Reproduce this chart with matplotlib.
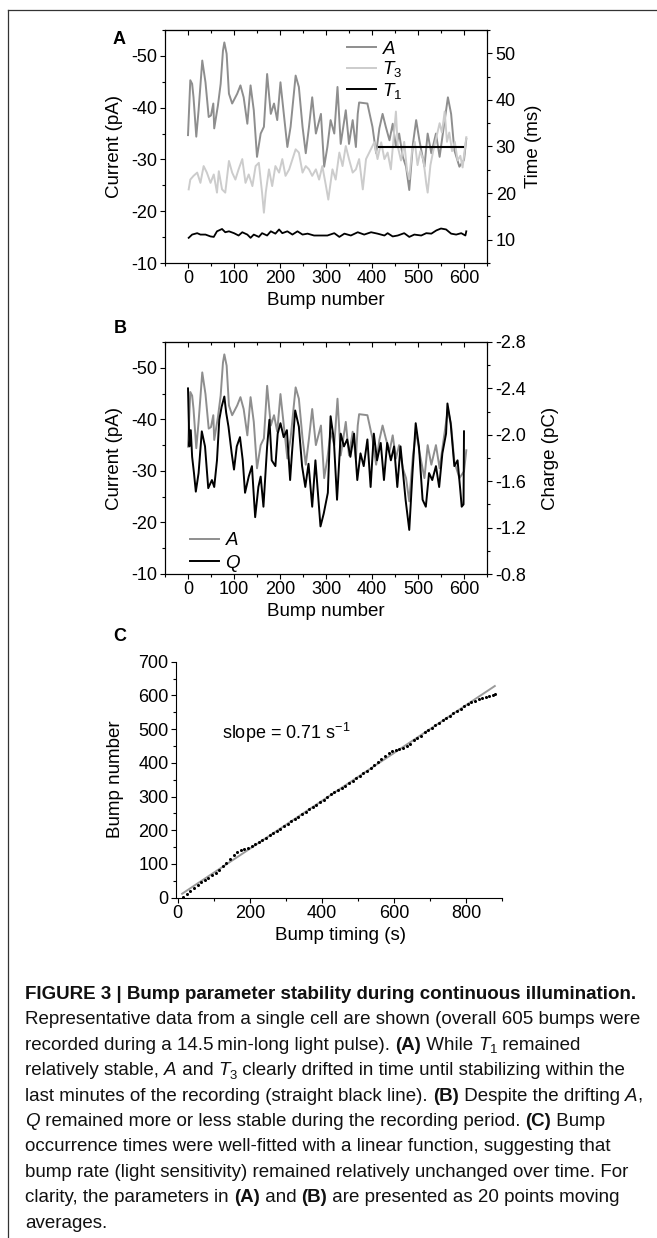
import matplotlib
matplotlib.use("Agg")
import matplotlib.pyplot as plt
from matplotlib.lines import Line2D
from matplotlib.ticker import MultipleLocator

W, H = 657, 1238

plt.rcParams['font.family'] = ['Liberation Sans', 'DejaVu Sans']
plt.rcParams['mathtext.fontset'] = 'custom'
plt.rcParams['mathtext.rm'] = 'Liberation Sans'
plt.rcParams['mathtext.it'] = 'Liberation Sans:italic'
plt.rcParams['mathtext.bf'] = 'Liberation Sans:bold'
plt.rcParams['axes.linewidth'] = 0.8

GREY_A = '#8e8e8e'
GREY_T3 = '#cccccc'
GREY_FIT = '#9a9a9a'

# ---- panel A / B : amplitude A (pA), 20-point moving average
A_x = [0, 5, 9, 12, 18, 23, 31, 38, 45, 50, 55, 57, 65, 71, 76, 79, 84, 89, 96, 107,
       114, 121, 129, 136, 143, 150, 158, 165, 172, 180, 187, 194, 201, 209, 216, 223, 234, 241, 249, 256,
       263, 270, 278, 289, 296, 303, 310, 318, 325, 332, 343, 350, 358, 365, 369, 372, 390, 401, 409, 416,
       423, 430, 438, 445, 452, 459, 467, 474, 481, 489, 496, 503, 514, 521, 529, 539, 547, 554, 565, 572,
       579, 590, 600, 605]
A_pA = [-34.7, -45.3, -44.6, -42, -34.4, -39.5, -49.1, -44.9, -38.2, -38.5,
        -40.8, -36, -40.4, -44.6, -51, -52.6, -50.4, -42.7, -40.8, -42.7,
        -44.3, -42, -36.9, -44.3, -39.5, -30.5, -35, -36.3, -46.5, -38.8,
        -40.8, -37.6, -44.9, -38.2, -32.4, -36.3, -46.2, -44, -36.3, -31.2,
        -36.3, -42, -35, -38.8, -28.6, -32.4, -37.6, -35, -44, -33,
        -39.5, -33, -37.6, -32.4, -38.8, -41, -40.8, -36.3, -31.2, -36,
        -38.8, -36.3, -33.7, -36.9, -32.4, -35, -30.5, -28.6, -24.1, -33,
        -37.6, -33.7, -28.6, -35, -31.2, -35, -30.5, -35, -42, -38.8,
        -31.8, -28.6, -29.9, -34]

# ---- panel A : T3 (ms)
T3_x = [1.5, 5, 12, 20, 27, 34, 41, 49, 56, 63, 67, 74, 81, 89, 96, 103, 110, 118, 125, 132,
        140, 147, 154, 161, 165, 169, 176, 183, 190, 198, 205, 212, 220, 234, 241, 249, 256, 263, 270, 278,
        285, 292, 300, 305, 314, 321, 329, 336, 343, 350, 358, 365, 372, 380, 387, 394, 405, 412, 420, 427,
        434, 441, 448, 452, 456, 463, 470, 476, 481, 487, 493, 499, 505, 512, 518, 521, 527, 533, 540, 547,
        552, 558, 563, 568, 574, 580, 586, 592, 597, 600, 605]
T3_ms = [20.8, 22.9, 23.7, 24.4, 22.2, 25.8, 24.4, 22.2, 24.0, 20.1,
         24.7, 20.8, 20.1, 26.9, 24.4, 22.9, 25.1, 27.3, 22.2, 24.0,
         21.5, 25.8, 26.5, 20.1, 15.8, 20.1, 25.1, 21.5, 25.8, 24.4,
         27.3, 23.7, 25.1, 29.4, 28.7, 24.4, 25.8, 25.1, 23.7, 25.1,
         22.9, 25.8, 21.5, 18.6, 25.1, 22.9, 28.7, 25.8, 30.1, 27.3,
         24.4, 25.1, 27.3, 20.8, 27.3, 28.7, 30.9, 27.3, 30.9, 27.3,
         28.7, 25.1, 33, 37.5, 30, 27, 31, 25, 23, 29,
         31, 26, 29, 27, 22, 20.1, 26, 29, 32, 35,
         33, 37.5, 31, 33, 29, 31, 27, 28, 25.5, 28, 32]

# ---- panel A : T1 (ms)
T1_x = [1.5, 9, 20, 27, 38, 49, 56, 63, 74, 81, 89, 100, 110, 118, 129, 136, 143, 154, 161, 172,
        180, 190, 198, 205, 216, 227, 238, 249, 260, 274, 289, 303, 318, 329, 340, 354, 369, 383, 398, 412,
        427, 434, 445, 456, 470, 481, 492, 507, 518, 529, 540, 550, 561, 572, 583, 594, 603, 605]
T1_ms = [10.4, 11.1, 11.4, 11.1, 11.1, 10.7, 10.6, 11.8, 12.3, 11.6,
         11.8, 11.4, 10.9, 11.6, 11.1, 10.4, 11.1, 10.6, 11.4, 10.9,
         11.8, 11.3, 12.2, 11.4, 11.8, 11.1, 11.8, 11.1, 11.3, 10.9,
         10.9, 10.9, 11.4, 10.6, 11.3, 10.9, 11.6, 11.1, 11.6, 11.3,
         10.9, 11.4, 10.7, 10.9, 11.4, 10.6, 11.1, 10.9, 11.4, 11.3,
         12.0, 12.4, 12.2, 11.3, 11.1, 11.4, 10.9, 11.8]

# stabilised level (straight black line)
STABLE_X = [415, 598]
STABLE_MS = 29.8

# ---- panel B : charge Q (pC)
Q_x = [0, 3, 6, 9, 13, 17, 23, 30, 37, 44, 52, 57, 63, 68, 73, 79, 83, 88, 95, 100,
       106, 113, 119, 124, 132, 139, 146, 153, 158, 164, 172, 177, 182, 190, 195, 201, 208, 215, 222, 226,
       233, 241, 248, 255, 262, 270, 277, 288, 295, 304, 310, 317, 324, 332, 339, 346, 353, 361, 368, 375,
       382, 390, 397, 404, 411, 419, 426, 433, 441, 448, 455, 462, 473, 481, 488, 495, 502, 510, 517, 524,
       531, 539, 546, 553, 561, 564, 571, 579, 586, 592, 595, 599, 600]
Q_pC = [-2.40, -1.90, -2.04, -1.81, -1.67, -1.51, -1.67, -2.03, -1.90, -1.54,
        -1.61, -1.55, -1.78, -2.13, -2.24, -2.33, -2.19, -2.07, -1.84, -1.70,
        -1.90, -1.98, -1.78, -1.50, -1.64, -1.73, -1.29, -1.55, -1.64, -1.38,
        -1.90, -2.13, -1.78, -1.73, -2.01, -2.10, -1.98, -2.04, -1.61, -1.84,
        -2.21, -2.07, -1.73, -1.55, -1.75, -1.38, -1.78, -1.21, -1.32, -1.50,
        -2.16, -1.96, -1.44, -2.01, -1.90, -1.96, -1.81, -2.01, -1.61, -1.84,
        -1.73, -1.96, -1.55, -2.01, -1.78, -1.93, -1.61, -1.93, -1.78, -1.90,
        -1.55, -1.90, -1.44, -1.18, -1.67, -2.10, -1.90, -1.44, -1.38, -1.67,
        -1.61, -1.73, -1.55, -1.84, -2.01, -2.27, -2.10, -1.73, -1.78, -1.52,
        -1.38, -1.40, -2.03]

# ---- panel C : bump occurrence times
C_t = [15, 25, 35, 45, 55, 65, 75, 85, 95, 105, 115, 125, 135, 145, 155, 165, 175, 185, 195, 205,
       215, 225, 235, 245, 255, 265, 275, 285, 295, 305, 315, 325, 335, 345, 355, 365, 375, 385, 395, 405,
       415, 425, 435, 445, 455, 465, 475, 485, 495, 505, 515, 525, 535, 545, 555, 565, 575, 585, 595, 605,
       615, 625, 635, 645, 655, 665, 675, 685, 695, 705, 715, 725, 735, 745, 755, 765, 775, 785, 795, 805,
       815, 825, 835, 845, 855, 865, 875, 880]
C_n = [2, 12, 20, 28, 36, 45, 52, 59, 67, 74, 83, 93, 104, 115, 126, 134, 140, 145, 148, 153,
       158, 164, 171, 178, 185, 192, 198, 205, 212, 219, 226, 233, 240, 248, 255, 262, 268, 275, 283, 290,
       298, 306, 313, 319, 325, 332, 339, 347, 355, 362, 369, 377, 385, 394, 403, 412, 420, 428, 434, 437,
       440, 443, 449, 457, 467, 474, 481, 490, 497, 504, 511, 519, 526, 533, 540, 547, 554, 561, 568, 574,
       579, 584, 588, 592, 596, 599, 602, 604]
FIT_SLOPE = 0.71
FIT_ICPT = 3.0
FIT_T = [12, 880]


def rect(l, t, r, b):
    return [l / W, 1 - b / H, (r - l) / W, (b - t) / H]


TICK = dict(length=3.3, width=0.8, labelsize=13)
MINOR = dict(length=1.9, width=0.8)

fig = plt.figure(figsize=(W / 100, H / 100), dpi=100)
fig.patch.set_facecolor('white')

# page frame (top rule + left rule)
fig.add_artist(Line2D([8 / W, 1], [1 - 10 / H, 1 - 10 / H], color='#333333', lw=0.9))
fig.add_artist(Line2D([8 / W, 8 / W], [1 - 10 / H, 0], color='#333333', lw=0.9))


def bump_xaxis(ax):
    ax.set_xlim(-50, 650)
    ax.xaxis.set_major_locator(MultipleLocator(100))
    ax.xaxis.set_minor_locator(MultipleLocator(50))
    ax.tick_params(axis='x', which='major', direction='out', pad=2, **TICK)
    ax.tick_params(axis='x', which='minor', direction='out', **MINOR)
    top = ax.secondary_xaxis('top')
    top.xaxis.set_major_locator(MultipleLocator(100))
    top.xaxis.set_minor_locator(MultipleLocator(50))
    top.tick_params(which='major', direction='in', labeltop=False, length=3.3, width=0.8)
    top.tick_params(which='minor', direction='in', length=1.9, width=0.8)
    ax.set_xlabel('Bump number', fontsize=13.5)
    ax.xaxis.set_label_coords(0.5, -0.125)


def current_yaxis(ax):
    ax.set_ylim(-10, -55)
    ax.yaxis.set_major_locator(MultipleLocator(10))
    ax.yaxis.set_minor_locator(MultipleLocator(5))
    ax.tick_params(axis='y', which='major', direction='out', pad=2, **TICK)
    ax.tick_params(axis='y', which='minor', direction='out', **MINOR)
    ax.set_ylabel('Current (pA)', fontsize=13.5)
    ax.yaxis.set_label_coords(-0.13, 0.5)


# ---------------- panel A
axA = fig.add_axes(rect(165, 30, 487, 263))
axA.plot(A_x, A_pA, color=GREY_A, lw=1.4, zorder=3)
bump_xaxis(axA)
current_yaxis(axA)

axT = axA.twinx()
axT.plot(T3_x, T3_ms, color=GREY_T3, lw=1.4)
axT.plot(T1_x, T1_ms, color='black', lw=1.3)
axT.plot(STABLE_X, [STABLE_MS, STABLE_MS], color='black', lw=1.5)
axT.set_ylim(5, 55)
axT.yaxis.set_major_locator(MultipleLocator(10))
axT.yaxis.set_minor_locator(MultipleLocator(5))
axT.tick_params(axis='y', which='major', direction='out', pad=3, **TICK)
axT.tick_params(axis='y', which='minor', direction='out', **MINOR)
axT.set_ylabel('Time (ms)', fontsize=13.5)
axT.yaxis.set_label_coords(1.118, 0.5)
axT.set_xlim(-50, 650)

axT.legend(
    handles=[Line2D([], [], color=GREY_A, lw=1.4),
             Line2D([], [], color=GREY_T3, lw=1.4),
             Line2D([], [], color='black', lw=1.4)],
    labels=[r'$\mathit{A}$', r'$\mathit{T_3}$', r'$\mathit{T_1}$'],
    loc='upper left', bbox_to_anchor=(0.565, 0.955), frameon=False,
    fontsize=13.5, handlelength=1.55, handletextpad=0.3, labelspacing=0.08,
    borderaxespad=0, borderpad=0)

fig.text(119 / W, 1 - 39 / H, 'A', fontsize=13, fontweight='bold', ha='center', va='center')

# ---------------- panel B
axB = fig.add_axes(rect(165, 342, 487, 574))
axB.plot(A_x, A_pA, color=GREY_A, lw=1.4)
bump_xaxis(axB)
current_yaxis(axB)

axQ = axB.twinx()
axQ.plot(Q_x, Q_pC, color='black', lw=1.4)
axQ.set_ylim(-0.8, -2.8)
axQ.set_xlim(-50, 650)
axQ.yaxis.set_major_locator(MultipleLocator(0.4))
axQ.yaxis.set_minor_locator(MultipleLocator(0.2))
axQ.tick_params(axis='y', which='major', direction='out', pad=3, **TICK)
axQ.tick_params(axis='y', which='minor', direction='out', **MINOR)
axQ.set_ylabel('Charge (pC)', fontsize=13.5)
axQ.yaxis.set_label_coords(1.17, 0.5)

axQ.legend(
    handles=[Line2D([], [], color=GREY_A, lw=1.4),
             Line2D([], [], color='black', lw=1.4)],
    labels=[r'$\mathit{A}$', r'$\mathit{Q}$'],
    loc='lower left', bbox_to_anchor=(0.078, 0.0), frameon=False,
    fontsize=13.5, handlelength=1.55, handletextpad=0.3, labelspacing=0.2,
    borderaxespad=0, borderpad=0)

fig.text(120 / W, 1 - 328.5 / H, 'B', fontsize=13, fontweight='bold', ha='center', va='center')

# ---------------- panel C
axC = fig.add_axes(rect(176, 661.7, 502, 897.6))
fit_n = [FIT_SLOPE * t + FIT_ICPT for t in FIT_T]
axC.plot(FIT_T, fit_n, color=GREY_FIT, lw=1.4)
axC.plot(C_t, C_n, 'o', color='black', ms=2.2, mew=0)
axC.set_xlim(-5, 900)
axC.set_ylim(0, 700)
for s in ('top', 'right'):
    axC.spines[s].set_visible(False)
axC.xaxis.set_major_locator(MultipleLocator(200))
axC.xaxis.set_minor_locator(MultipleLocator(100))
axC.yaxis.set_major_locator(MultipleLocator(100))
axC.yaxis.set_minor_locator(MultipleLocator(50))
axC.tick_params(which='major', direction='out', pad=2, **TICK)
axC.tick_params(which='minor', direction='out', **MINOR)
axC.set_xlabel('Bump timing (s)', fontsize=13.5)
axC.xaxis.set_label_coords(0.506, -0.125)
axC.set_ylabel('Bump number', fontsize=13.5)
axC.yaxis.set_label_coords(-0.16, 0.5)
axC.text(0.141, 0.70, r'slope = 0.71 s$^{\mathregular{-1}}$', transform=axC.transAxes,
         fontsize=13, ha='left', va='center')

fig.text(120 / W, 1 - 636.7 / H, 'C', fontsize=13, fontweight='bold', ha='center', va='center')

for ax in (axA, axT, axB, axQ, axC):
    ax.yaxis.set_major_formatter(plt.FuncFormatter(
        lambda v, p, ax=ax: (f'{v:.1f}' if ax is axQ else f'{v:.0f}')))
    ax.xaxis.set_major_formatter(plt.FuncFormatter(lambda v, p: f'{v:.0f}'))

# ---------------- caption
CAP_SIZE = 13.5
CAP_X0 = 25
CAP_Y0 = 999
CAP_DY = 25.4
caption = [
    [("FIGURE 3 | Bump parameter stability during continuous illumination.", "b")],
    [("Representative data from a single cell are shown (overall 605 bumps were", "")],
    [("recorded during a 14.5\u2009min-long light pulse). ", ""), ("(A)", "b"), (" While ", ""),
     ("T", "i"), ("1", "s"), (" remained", "")],
    [("relatively stable, ", ""), ("A", "i"), (" and ", ""), ("T", "i"), ("3", "s"),
     (" clearly drifted in time until stabilizing within the", "")],
    [("last minutes of the recording (straight black line). ", ""), ("(B)", "b"),
     (" Despite the drifting ", ""), ("A", "i"), (",", "")],
    [("Q", "i"), (" remained more or less stable during the recording period. ", ""), ("(C)", "b"),
     (" Bump", "")],
    [("occurrence times were well-fitted with a linear function, suggesting that", "")],
    [("bump rate (light sensitivity) remained relatively unchanged over time. For", "")],
    [("clarity, the parameters in ", ""), ("(A)", "b"), (" and ", ""), ("(B)", "b"),
     (" are presented as 20 points moving", "")],
    [("averages.", "")],
]

renderer = fig.canvas.get_renderer()


def run_kw(style):
    kw = dict(fontsize=CAP_SIZE, family=['Liberation Sans', 'DejaVu Sans'], color='#111111')
    if 'b' in style:
        kw['fontweight'] = 'bold'
    if 'i' in style:
        kw['fontstyle'] = 'italic'
    if 's' in style:
        kw['fontsize'] = CAP_SIZE * 0.7
    return kw


def width_px(s, kw):
    t1 = fig.text(0, 0, '|' + s + '|', **kw)
    t0 = fig.text(0, 0, '||', **kw)
    w = t1.get_window_extent(renderer).width - t0.get_window_extent(renderer).width
    t1.remove()
    t0.remove()
    return w


for i, runs in enumerate(caption):
    x = CAP_X0
    yb = CAP_Y0 + i * CAP_DY
    for s, style in runs:
        kw = run_kw(style)
        dy = 3.5 if 's' in style else 0
        fig.text(x / W, 1 - (yb + dy) / H, s, ha='left', va='baseline', **kw)
        x += width_px(s, kw)

fig.savefig('out.png', dpi=100, facecolor='white')
